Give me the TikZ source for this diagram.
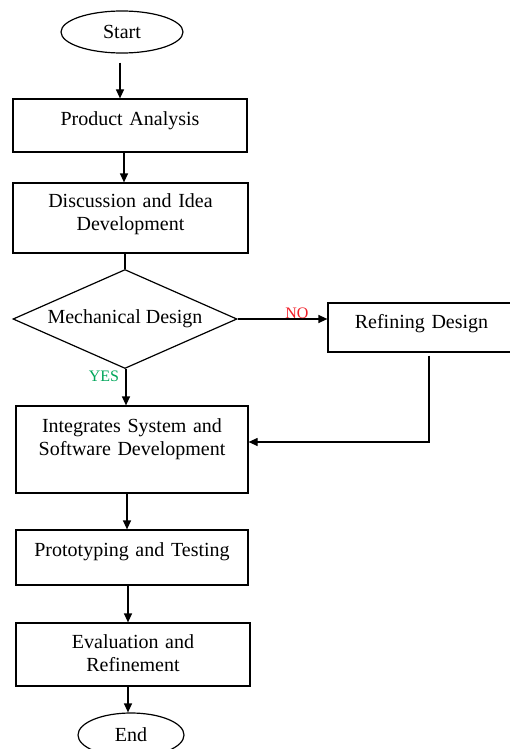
\documentclass[tikz,border=0pt]{standalone}
\usepackage{fontspec}
\setmainfont{Liberation Serif}
\usetikzlibrary{shapes.geometric,arrows.meta}
\definecolor{yesgreen}{RGB}{0,166,90}
\definecolor{nored}{RGB}{240,30,40}
\begin{document}
\begin{tikzpicture}[x = 1pt, y = -1pt,
  every node/.style = {font = \fontsize{20}{23}\selectfont},
  stage/.style = {draw, line width = 1.2pt, inner xsep = 0pt, inner ysep = 0pt, align = center},
  term/.style = {draw, ellipse, line width = 1.2pt, inner sep = 0pt},
  arr/.style = {line width = 1.2pt, -{Triangle[length = 9pt, width = 8pt]}},
  tag/.style = {font = \fontsize{16}{16}\selectfont}]
\useasboundingbox (0, 0) rectangle (510, 749);
\node[term, minimum width = 122pt, minimum height = 42pt] (start) at (122, 32) {Start};
\node[stage, text width = 234pt, text height = 26pt, text depth = 27pt] (prod) at (130, 125.5) {Product Analysis};
\node[stage, text width = 235pt, text height = 24pt, text depth = 46pt] (disc) at (130.5, 218) {Discussion and Idea\\Development};
\node[draw, diamond, aspect = 2.26, minimum width = 224pt, minimum height = 99pt, inner sep = 0pt, line width = 1.2pt] (dia) at (125, 319) {Mechanical Design};
\node[stage, text width = 187pt, text height = 25pt, text depth = 24pt] (refine) at (421.5, 327.5) {Refining Design};
\node[stage, text width = 232pt, text height = 26pt, text depth = 61pt] (integ) at (132, 449.5) {Integrates System and\\Software Development};
\node[stage, text width = 232pt, text height = 26pt, text depth = 29pt] (proto) at (132, 557.5) {Prototyping and Testing};
\node[stage, text width = 234pt, text height = 25pt, text depth = 38pt] (eval) at (133, 654.5) {Evaluation and\\Refinement};
\node[term, minimum width = 106pt, minimum height = 44pt] (end) at (131, 735) {End};
\node[tag, text = yesgreen] (yes) at (104, 376) {YES};
\draw[arr, shorten <= 9pt] ([xshift = -2pt]start.south) -- ([xshift = -2pt]start.south |- prod.north);
\draw[arr] ([xshift = -6pt]prod.south) -- ([xshift = -6pt]prod.south |- disc.north);
\draw[line width = 1.2pt] (disc.south -| dia.north) -- (dia.north);
\draw[arr] ([xshift = 1pt]dia.south) -- ([xshift = 1pt]dia.south |- integ.north);
\draw[arr] (dia.east) -- (dia.east -| refine.west) node[tag, text = nored, pos = 0.66, yshift = 6pt] (no) {NO};
\draw[arr] ([xshift = 7.5pt, yshift = -3pt]refine.south) |- ([yshift = 7.5pt]integ.east);
\draw[arr] ([xshift = -5pt]integ.south) -- ([xshift = -5pt]integ.south |- proto.north);
\draw[arr] ([xshift = -4pt]proto.south) -- ([xshift = -4pt]proto.south |- eval.north);
\draw[arr] ([xshift = -5pt]eval.south) -- ([xshift = -5pt]eval.south |- end.north);
\end{tikzpicture}
\end{document}
